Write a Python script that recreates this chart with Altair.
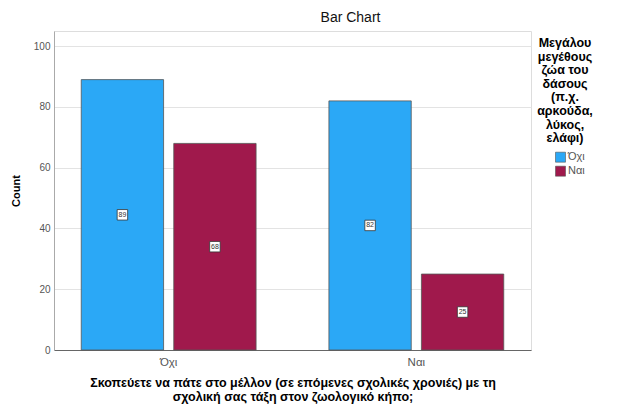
import altair as alt
import pandas as pd

categories = ["Όχι", "Ναι"]
groups = ["Όχι", "Ναι"]
counts_oxi = [89, 68]   # x = Όχι : group Όχι, Ναι
counts_nai = [82, 25]   # x = Ναι : group Όχι, Ναι
colors = ["#2BA8F6", "#A0194C"]

rows = []
for cat, vals in zip(categories, [counts_oxi, counts_nai]):
    for g, v in zip(groups, vals):
        rows.append({"cat": cat, "grp": g, "count": v, "mid": v / 2, "label": str(v)})
df = pd.DataFrame(rows)

FONT = "Liberation Sans"

x_enc = alt.X("cat:N", sort=categories,
              scale=alt.Scale(paddingInner=0.294, paddingOuter=0.11),
              axis=alt.Axis(title=["Σκοπεύετε να πάτε στο μέλλον (σε επόμενες σχολικές χρονιές) με τη",
                                   "σχολική σας τάξη στον ζωολογικό κήπο;"],
                            labelAngle=0, ticks=False, labelPadding=6, labelFontSize=11.5,
                            labelColor="#555", titleFontSize=12.5, titleFontWeight="bold",
                            titlePadding=9, titleLineHeight=14, domainColor="#666", grid=False,
                            labelFont=FONT, titleFont=FONT, titleColor="#000"))
xoff = alt.XOffset("grp:N", sort=groups, scale=alt.Scale(paddingInner=0.11, paddingOuter=0))

base = alt.Chart(df)

bars = base.mark_bar(stroke="#555", strokeWidth=0.8).encode(
    x=x_enc,
    xOffset=xoff,
    y=alt.Y("count:Q", scale=alt.Scale(domain=[0, 105], nice=False),
            axis=alt.Axis(title="Count", values=[0, 20, 40, 60, 80, 100], ticks=False,
                          labelPadding=4, labelFontSize=10, labelColor="#555",
                          titleFontSize=11, titleFontWeight="bold", titlePadding=12,
                          gridColor="#e3e3e3", domainColor="#aaa", labelFont=FONT,
                          titleFont=FONT, titleColor="#000")),
    color=alt.Color("grp:N", sort=groups,
                    scale=alt.Scale(domain=groups, range=colors),
                    legend=alt.Legend(title=["Μεγάλου", "μεγέθους", "ζώα του", "δάσους",
                                             "(π.χ.", "αρκούδα,", "λύκος,", "ελάφι)"],
                                      orient="none", legendX=483, legendY=6,
                                      titleAlign="center", titleAnchor="middle",
                                      titleFontSize=12.5, titleFontWeight="bold",
                                      titleLineHeight=13.6, titleFont=FONT, titleColor="#000",
                                      labelFont=FONT, labelFontSize=11, labelColor="#555",
                                      symbolType="square", symbolSize=100, symbolOffset=9,
                                      symbolStrokeColor="#555", symbolStrokeWidth=0.6,
                                      rowPadding=1, labelOffset=2, titlePadding=7)),
)

boxes = base.mark_square(size=110, fill="white", stroke="#333", strokeWidth=0.8, opacity=1).encode(
    x=alt.X("cat:N", sort=categories), xOffset=xoff, y="mid:Q")

texts = base.mark_text(fontSize=7, font=FONT, color="#333").encode(
    x=alt.X("cat:N", sort=categories), xOffset=xoff, y="mid:Q", text="label:N")

chart = alt.layer(bars, boxes, texts).properties(
    width=477, height=319,
    title=alt.TitleParams("Bar Chart", fontSize=14, fontWeight="normal", font=FONT,
                          color="#111", anchor="middle", dx=58, offset=6),
    autosize=alt.AutoSizeParams(type="none"),
    padding={"left": 46, "top": 23, "right": 86, "bottom": 57},
).configure_view(stroke=None).configure(background="white")

chart.save("out.html", embed_options={"renderer": "svg", "actions": False})
